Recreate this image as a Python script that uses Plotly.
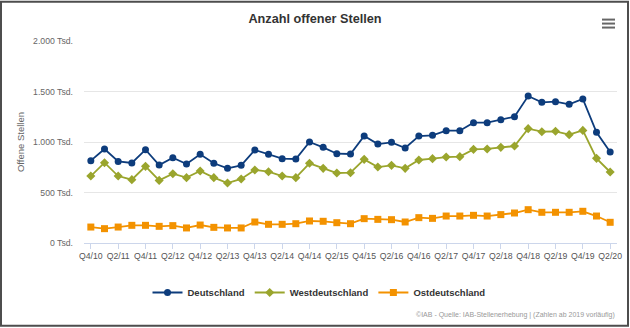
import plotly.graph_objects as go

quarters = ["Q4/10"] + [f"Q{q}/{y:02d}" for y in range(11, 20) for q in range(1, 5)] + ["Q1/20", "Q2/20"]

deutschland = [815, 931, 808, 792, 924, 772, 845, 782, 878, 789, 739, 769, 921, 878, 835, 832, 1000,
               947, 884, 881, 1059, 980, 997, 941, 1059, 1066, 1112, 1112, 1191, 1191, 1221, 1251,
               1455, 1393, 1399, 1373, 1426, 1096, 901]
westdeutschland = [663, 795, 663, 627, 759, 620, 686, 647, 713, 647, 594, 634, 723, 706, 663, 647, 789,
                   739, 693, 696, 828, 752, 769, 739, 822, 835, 851, 855, 927, 931, 947, 960,
                   1132, 1102, 1106, 1073, 1115, 838, 703]
ostdeutschland = [158, 142, 158, 175, 175, 165, 172, 149, 178, 155, 149, 149, 208, 185, 185, 191, 218,
                  215, 201, 191, 241, 234, 231, 208, 251, 244, 267, 267, 274, 267, 281, 297,
                  330, 304, 304, 304, 314, 267, 205]

y_ticks = [0, 500, 1000, 1500, 2000]
y_ticktext = ["0 Tsd.", "500 Tsd.", "1.000 Tsd.", "1.500 Tsd.", "2.000 Tsd."]

FONT = "Liberation Sans, Arial, sans-serif"
W, H = 630, 328
L, R, T, B = 84, 13, 40.5, 84.7
pw, ph = W - L - R, H - T - B

def px(xp):
    return (xp - L) / pw

def py(yp):
    return (H - B - yp) / ph

fig = go.Figure()
series = [
    ("Deutschland", deutschland, "#0d3c7c", "circle", 7),
    ("Westdeutschland", westdeutschland, "#9aa52d", "diamond", 7),
    ("Ostdeutschland", ostdeutschland, "#f39200", "square", 7),
]
for name, vals, col, sym, sz in series:
    fig.add_trace(go.Scatter(
        x=quarters, y=vals, name=name, mode="lines+markers",
        line=dict(color=col, width=1.8),
        marker=dict(color=col, symbol=sym, size=sz),
        hoverinfo="skip",
    ))

shapes = [
    dict(type="rect", xref="paper", yref="paper", x0=px(1), x1=px(628), y0=py(1), y1=py(326.5),
         line=dict(color="#4d4d4d", width=2), fillcolor="rgba(0,0,0,0)"),
]
for yy in (19, 23, 27):
    shapes.append(dict(type="line", xref="paper", yref="paper", x0=px(602), x1=px(615),
                       y0=py(yy), y1=py(yy), line=dict(color="#666666", width=2)))

fig.update_layout(
    width=W, height=H,
    margin=dict(l=L, r=R, t=T, b=B, autoexpand=False),
    paper_bgcolor="white", plot_bgcolor="white",
    font=dict(family=FONT, color="#666666", size=9),
    title=dict(text="<b>Anzahl offener Stellen</b>", x=0.5, xanchor="center",
               y=1 - 19 / H, yanchor="middle", font=dict(size=12.7, color="#333333", family=FONT)),
    showlegend=True,
    legend=dict(orientation="h", x=px(319), xanchor="center", y=py(293), yanchor="middle",
                font=dict(size=9.5, color="#333333", family=FONT, weight="bold"),
                itemwidth=30, bgcolor="rgba(0,0,0,0)"),
    hovermode=False,
    shapes=shapes,
    annotations=[dict(text="©IAB - Quelle: IAB-Stellenerhebung | (Zahlen ab 2019 vorläufig)",
                      xref="paper", yref="paper", x=1.0, xanchor="right", y=py(316), yanchor="middle",
                      showarrow=False, font=dict(size=7, color="#999999", family=FONT))],
)

fig.update_xaxes(
    type="category", range=[-0.5, len(quarters) - 0.5],
    tickvals=quarters[::2], ticktext=quarters[::2],
    showgrid=False, showline=True, linecolor="#ccd6eb", linewidth=1,
    ticks="outside", ticklen=5, tickcolor="#ccd6eb",
    tickfont=dict(size=8.7, color="#555555", family=FONT), tickangle=0,
    zeroline=False, fixedrange=True,
)
fig.update_yaxes(
    range=[0, 2000], tickvals=y_ticks, ticktext=y_ticktext,
    showgrid=True, gridcolor="#e6e6e6", gridwidth=1,
    showline=False, zeroline=False, ticks="", ticklabelstandoff=10,
    tickfont=dict(size=8.7, color="#666666", family=FONT),
    title=dict(text="Offene Stellen", font=dict(size=9.5, color="#666666", family=FONT), standoff=6),
    fixedrange=True,
)

fig.write_html("out.html", config={"displayModeBar": False})
